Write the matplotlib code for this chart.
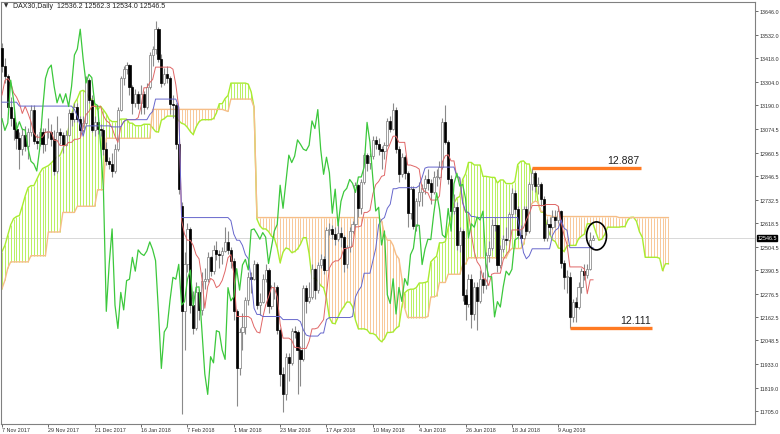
import numpy as np
import pandas as pd
import matplotlib
matplotlib.use("Agg")
import matplotlib.pyplot as plt
import matplotlib.transforms as mtransforms
from matplotlib.patches import Ellipse

# ------------------ DATE: DAX30, Daily ------------------
opens = [
    13470, 13380, 13330, 13182, 13127, 13074, 13033, 12976, 13047, 12993,
    13058, 13168, 13015, 13008, 13060, 13000, 13060, 13061, 13024, 12870,
    13058, 13048, 12999, 13045, 13154, 13123, 13183, 13125, 13068, 13104,
    13312, 13215, 13070, 13110, 13073, 13070, 12980, 12918, 12905, 12871,
    12978, 13167, 13320, 13367, 13385, 13281, 13202, 13245, 13201, 13246,
    13184, 13281, 13434, 13463, 13559, 13415, 13298, 13340, 13324, 13198,
    13189, 13004, 12700, 12190, 12420, 12590, 12220, 12107, 12282, 12197,
    12339, 12346, 12452, 12385, 12488, 12470, 12461, 12483, 12527, 12490,
    12436, 12190, 11913, 12090, 12114, 12245, 12355, 12346, 12418, 12221,
    12237, 12345, 12390, 12217, 12307, 12309, 12100, 11886, 11787, 11970,
    11940, 12096, 12090, 12002, 11957, 12305, 12241, 12261, 12397, 12293,
    12415, 12442, 12391, 12585, 12590, 12567, 12540, 12572, 12550, 12422,
    12500, 12580, 12612, 12802, 12690, 12820, 12948, 12912, 12943, 13022,
    13001, 12977, 12970, 12996, 13114, 13077, 13169, 12976, 12855, 12938,
    12863, 12666, 12783, 12605, 12724, 12771, 12787, 12830, 12811, 12767,
    12842, 12842, 12890, 13107, 13010, 12834, 12677, 12695, 12512, 12580,
    12270, 12228, 12348, 12177, 12306, 12238, 12349, 12317, 12465, 12496,
    12609, 12607, 12417, 12492, 12540, 12538, 12661, 12765, 12686, 12561,
    12548, 12689, 12579, 12809, 12860, 12798, 12806, 12737, 12546, 12615,
    12598, 12648, 12633, 12676, 12424, 12358, 12358, 12163, 12237, 12211,
    12309, 12385, 12366, 12394, 12536.2,
]
highs = [
    13490, 13420, 13340, 13230, 13160, 13110, 13060, 13080, 13090, 13080,
    13190, 13190, 13050, 13080, 13080, 13080, 13130, 13100, 13070, 13140,
    13080, 13060, 13070, 13170, 13160, 13200, 13200, 13140, 13140, 13330,
    13320, 13240, 13140, 13130, 13100, 13080, 13010, 12940, 12960, 13000,
    13180, 13330, 13380, 13400, 13390, 13290, 13270, 13260, 13290, 13260,
    13300, 13450, 13480, 13600, 13570, 13440, 13370, 13380, 13330, 13240,
    13200, 13010, 12720, 12480, 12620, 12600, 12290, 12330, 12300, 12380,
    12400, 12480, 12460, 12510, 12530, 12490, 12500, 12600, 12580, 12500,
    12450, 12200, 12110, 12180, 12260, 12380, 12380, 12440, 12430, 12280,
    12370, 12420, 12400, 12320, 12330, 12320, 12110, 11920, 11990, 11990,
    12110, 12120, 12100, 12020, 12320, 12320, 12330, 12420, 12400, 12430,
    12470, 12460, 12600, 12620, 12610, 12600, 12620, 12600, 12560, 12510,
    12600, 12630, 12820, 12810, 12830, 12960, 12960, 12960, 13040, 13040,
    13030, 12990, 13010, 13130, 13140, 13200, 13180, 12990, 12960, 12950,
    12870, 12800, 12800, 12740, 12820, 12810, 12850, 12880, 12830, 12870,
    12880, 12920, 13130, 13190, 13020, 12850, 12760, 12720, 12600, 12590,
    12300, 12370, 12370, 12330, 12330, 12390, 12380, 12480, 12530, 12640,
    12650, 12610, 12510, 12560, 12600, 12670, 12790, 12780, 12700, 12610,
    12700, 12700, 12820, 12887, 12870, 12840, 12820, 12750, 12640, 12650,
    12680, 12680, 12700, 12680, 12440, 12390, 12380, 12250, 12260, 12330,
    12400, 12420, 12420, 12575, 12562.3,
]
lows = [
    13350, 13300, 13150, 13090, 13020, 12980, 12880, 12950, 12970, 12930,
    13040, 13000, 12980, 12990, 12960, 12970, 13030, 12990, 12850, 12860,
    13000, 12960, 12990, 13040, 13090, 13110, 13110, 13040, 13060, 13100,
    13200, 13060, 13040, 13050, 13040, 12950, 12900, 12880, 12840, 12860,
    12970, 13160, 13290, 13340, 13240, 13150, 13180, 13170, 13150, 13150,
    13170, 13270, 13380, 13440, 13400, 13280, 13290, 13300, 13150, 13130,
    12980, 12760, 11690, 12000, 12380, 12180, 12080, 12100, 12150, 12170,
    12300, 12330, 12360, 12370, 12440, 12400, 12420, 12480, 12470, 12400,
    12150, 11730, 11880, 12000, 12080, 12220, 12280, 12340, 12200, 12170,
    12230, 12330, 12180, 12200, 12250, 12080, 11830, 11700, 11760, 11850,
    11930, 12060, 11790, 11830, 11950, 12180, 12230, 12250, 12250, 12280,
    12400, 12370, 12390, 12560, 12540, 12510, 12530, 12500, 12380, 12400,
    12480, 12570, 12600, 12650, 12660, 12810, 12870, 12880, 12930, 12980,
    12950, 12880, 12930, 12990, 13060, 13070, 12960, 12820, 12840, 12830,
    12600, 12640, 12590, 12580, 12700, 12700, 12760, 12780, 12710, 12760,
    12800, 12830, 12880, 13000, 12810, 12650, 12660, 12490, 12480, 12240,
    12150, 12210, 12110, 12150, 12100, 12230, 12280, 12300, 12430, 12490,
    12580, 12380, 12400, 12480, 12510, 12530, 12650, 12660, 12540, 12520,
    12540, 12560, 12570, 12780, 12770, 12760, 12700, 12530, 12530, 12560,
    12590, 12600, 12620, 12400, 12300, 12280, 12111, 12140, 12140, 12200,
    12280, 12340, 12350, 12390, 12534.0,
]
closes = [
    13380, 13330, 13182, 13127, 13074, 13033, 12976, 13047, 12993, 13058,
    13168, 13015, 13008, 13060, 13000, 13060, 13061, 13024, 12870, 13058,
    13048, 12999, 13045, 13154, 13123, 13183, 13125, 13068, 13104, 13312,
    13215, 13070, 13110, 13073, 13070, 12980, 12918, 12905, 12871, 12978,
    13167, 13320, 13367, 13385, 13281, 13202, 13245, 13201, 13246, 13184,
    13281, 13434, 13463, 13559, 13415, 13298, 13340, 13324, 13198, 13189,
    13004, 12785, 12190, 12420, 12590, 12220, 12107, 12282, 12197, 12339,
    12346, 12452, 12385, 12488, 12470, 12461, 12483, 12527, 12490, 12436,
    12190, 11913, 12090, 12114, 12245, 12355, 12346, 12418, 12221, 12237,
    12345, 12390, 12217, 12307, 12309, 12100, 11886, 11787, 11970, 11940,
    12096, 12090, 12002, 11957, 12305, 12241, 12261, 12397, 12293, 12415,
    12442, 12391, 12585, 12590, 12567, 12540, 12572, 12550, 12422, 12500,
    12580, 12612, 12802, 12690, 12820, 12948, 12912, 12943, 13022, 13001,
    12977, 12970, 12996, 13114, 13077, 13169, 12976, 12855, 12938, 12863,
    12666, 12783, 12605, 12724, 12771, 12787, 12830, 12811, 12767, 12842,
    12842, 12890, 13107, 13010, 12834, 12677, 12695, 12512, 12580, 12270,
    12228, 12348, 12177, 12306, 12238, 12349, 12317, 12465, 12496, 12609,
    12607, 12417, 12492, 12540, 12538, 12661, 12765, 12686, 12561, 12548,
    12689, 12579, 12809, 12860, 12798, 12806, 12737, 12546, 12615, 12598,
    12648, 12633, 12676, 12424, 12358, 12358, 12163, 12237, 12211, 12309,
    12385, 12366, 12394, 12536, 12546.5,
]

# valori Ichimoku de la marginea stanga (istoricul dinainte nu e pe grafic)
tenkan_head = [13240, 13310, 13320, 13300, 13250, 13230, 13200, 13150]
kijun_head = [13205] * 6 + [13186] * 19
span_a_head = [12480, 12510, 12560, 12610, 12640, 12650, 12655, 12700, 12750, 12790,
               12800, 12800, 12830, 12860, 12883, 12890, 12897, 12910, 12925, 12940,
               12946, 12980, 13013, 13080, 13140, 13200]
span_b_head = ([12300, 12340, 12400] + [12430] * 7 + [12460] * 6 + [12575] * 5
               + [12670] * 5 + [12700] * 7 + [12780] * 3 + [13030] * 16 + [13170] * 25)

date_labels = ["7 Nov 2017", "29 Nov 2017", "21 Dec 2017", "16 Jan 2018", "7 Feb 2018",
               "1 Mar 2018", "23 Mar 2018", "17 Apr 2018", "10 May 2018", "4 Jun 2018",
               "26 Jun 2018", "18 Jul 2018", "9 Aug 2018"]
price_ticks = [13646.0, 13532.0, 13418.0, 13304.0, 13190.0, 13074.5, 12960.5, 12846.5,
               12732.5, 12618.5, 12504.5, 12390.5, 12276.5, 12162.5, 12048.5, 11933.0,
               11819.0, 11705.0]

levels = [12887, 12111]
level_text = ["12.887", "12.111"]
level_from = [183, 196]
level_to = [220.5, 224.5]
last_price = 12546.5
header = "DAX30,Daily  12536.2 12562.3 12534.0 12546.5"

# ------------------ ICHIMOKU ------------------
df = pd.DataFrame({"o": opens, "h": highs, "l": lows, "c": closes})
n = len(df)
idx = np.arange(n)
shift = 26

tenkan = ((df.h.rolling(9).max() + df.l.rolling(9).min()) / 2).to_numpy()
tenkan[:len(tenkan_head)] = tenkan_head
kijun = ((df.h.rolling(26).max() + df.l.rolling(26).min()) / 2).to_numpy()
kijun[:len(kijun_head)] = kijun_head
b_src = ((df.h.rolling(52).max() + df.l.rolling(52).min()) / 2).to_numpy()

span_a = np.concatenate([span_a_head, (tenkan + kijun) / 2])
span_b = np.concatenate([span_b_head, b_src[51:]])
pos = np.arange(len(span_a))

# ------------------ FIGURA ------------------
plt.rcParams["font.family"] = ["Liberation Sans", "DejaVu Sans"]
fig = plt.figure(figsize=(7.8, 4.35), dpi=100)
ax = fig.add_axes([1 / 780, 10 / 435, 754 / 780, 422 / 435])
ax.set_xlim(-0.345, 259.9)
ax.set_ylim(11643.3, 13691.1)

# nor (hasurat vertical)
up = span_a >= span_b
ax.vlines(pos[up], span_b[up], span_a[up], color="#B8F060", lw=0.7, zorder=1)
ax.vlines(pos[~up], span_a[~up], span_b[~up], color="#F8C898", lw=0.7, zorder=1)
ax.plot(pos, span_a, color="#A8EC30", lw=1.0, zorder=2)
ax.plot(pos, span_b, color="#F6BE88", lw=1.0, zorder=2)

ax.axhline(last_price, color="#d8d8d8", lw=0.7, zorder=0.5)

# lumanari
o = df.o.to_numpy(); c = df.c.to_numpy()
bull = c >= o
ax.vlines(idx, df.l, df.h, color="#8a8a8a", lw=0.8, zorder=3)
body_lo = np.minimum(o, c)
body_h = np.maximum(np.abs(c - o), 3)
ax.bar(idx[bull], body_h[bull], bottom=body_lo[bull], width=0.75,
       color="white", edgecolor="#7a7a7a", lw=0.5, zorder=4)
ax.bar(idx[~bull], body_h[~bull], bottom=body_lo[~bull], width=0.75,
       color="black", edgecolor="black", lw=0.5, zorder=4)

# linii
ax.plot(idx, tenkan, color="#E06666", lw=0.7, zorder=5)
ax.plot(idx, kijun, color="#6666CC", lw=0.7, zorder=5)
ax.plot(idx[shift:] - shift, closes[shift:], color="#3CC83C", lw=0.9, zorder=5)

# niveluri
for lv, txt, x0, x1 in zip(levels, level_text, level_from, level_to):
    ax.hlines(lv, x0, x1, color="#FF7A22", lw=2.4, zorder=6)
    ax.text(x1 - 0.5, lv + 14, txt, ha="right", va="bottom", fontsize=7.5,
            color="#202020", zorder=7)

ax.add_patch(Ellipse((205.2, 12556), width=6.9, height=136, fill=False,
                     ec="black", lw=1.2, zorder=7))

# ------------------ AXE ------------------
ax.yaxis.tick_right()
ax.set_yticks(price_ticks)
ax.set_yticklabels([f"{v:.1f}" for v in price_ticks])
ax.set_xticks(np.arange(len(date_labels)) * 16)
ax.set_xticklabels(date_labels, ha="left")
ax.tick_params(axis="both", labelsize=3.9, colors="#303030", length=2, width=0.5)
ax.tick_params(axis="x", pad=0.5)
ax.tick_params(axis="y", pad=1)
for s in ax.spines.values():
    s.set_color("#808080")
    s.set_linewidth(0.8)

trans = mtransforms.blended_transform_factory(ax.transAxes, ax.transData)
ax.text(1.003, last_price, f"{last_price:.1f}", transform=trans, ha="left", va="center",
        fontsize=3.9, color="white", zorder=8,
        bbox=dict(boxstyle="square,pad=0.12", fc="black", ec="black"))

fig.text(4 / 780, 1 - 6 / 435, "▼", fontsize=4, va="center", color="#303030",
         family="DejaVu Sans")
fig.text(13 / 780, 1 - 6 / 435, header, fontsize=5, va="center", color="#202020")

fig.savefig("out.png", dpi=100)
